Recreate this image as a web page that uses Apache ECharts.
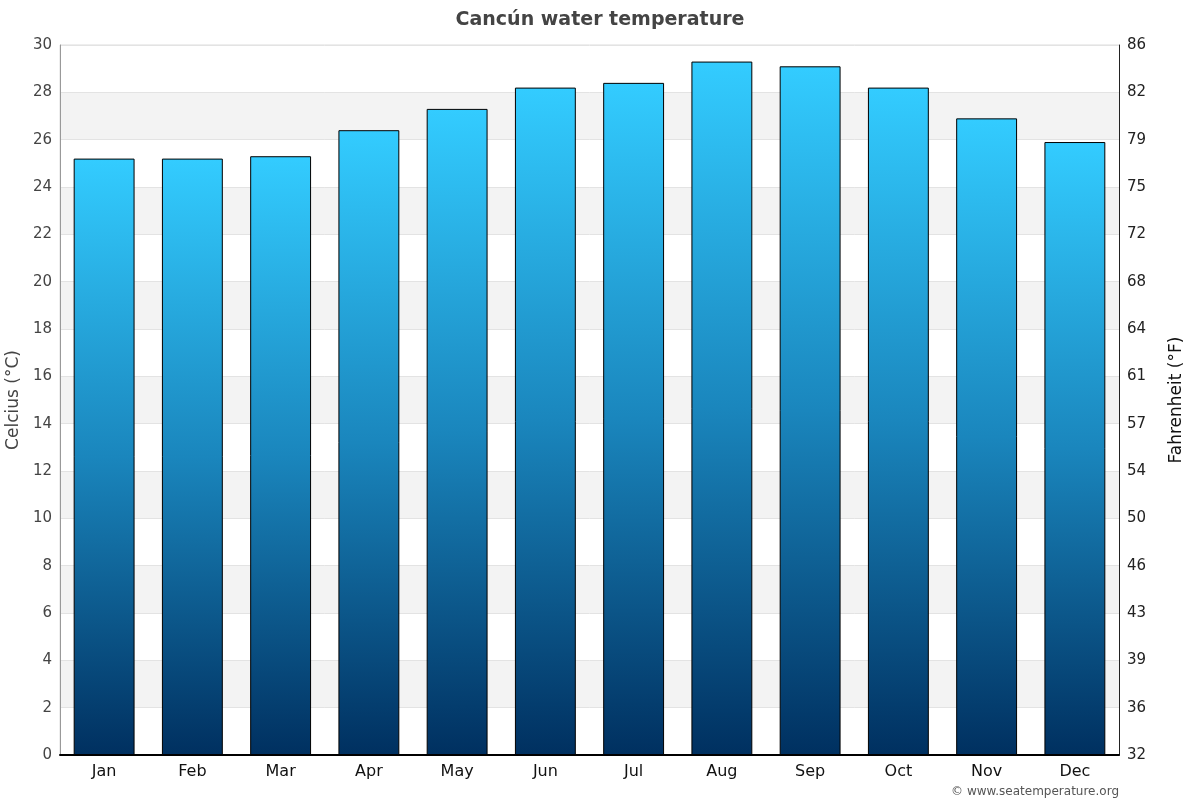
<!DOCTYPE html>
<html>
<head>
<meta charset="utf-8">
<title>Cancún water temperature</title>
<script src="https://cdn.jsdelivr.net/npm/echarts@6/dist/echarts.min.js"></script>
<style>
    html, body { margin: 0; padding: 0; background: #fff; }
    #main { width: 1200px; height: 800px; }
</style>
</head>
<body>
<div id="main"></div>
<script>
    var months = ['Jan', 'Feb', 'Mar', 'Apr', 'May', 'Jun', 'Jul', 'Aug', 'Sep', 'Oct', 'Nov', 'Dec'];
    var waterTempC = [25.2, 25.2, 25.3, 26.4, 27.3, 28.2, 28.4, 29.3, 29.1, 28.2, 26.9, 25.9];

    var myChart = echarts.init(document.getElementById('main'));
    var font = 'DejaVu Sans';

    var option = {
        animation: false,
        textStyle: { fontFamily: font },
        title: {
            text: 'Cancún water temperature',
            left: 'center',
            top: 6,
            textStyle: { fontSize: 19, fontWeight: 'bold', color: '#444', fontFamily: font }
        },
        graphic: [{
            type: 'text',
            right: 81,
            bottom: 2,
            style: { text: '© www.seatemperature.org', fontSize: 12, fill: '#555', fontFamily: font }
        }],
        grid: {
            left: 60, right: 81, top: 45, bottom: 45,
            outerBoundsMode: 'none',
            show: true, borderColor: '#ddd', borderWidth: 1
        },
        xAxis: {
            type: 'category',
            data: months,
            axisLine: { lineStyle: { color: '#000', width: 2 } },
            axisTick: { show: false },
            axisLabel: { color: '#111', fontSize: 16, margin: 9 }
        },
        yAxis: [{
            type: 'value',
            min: 0,
            max: 30,
            interval: 2,
            name: 'Celcius (°C)',
            nameLocation: 'middle',
            nameGap: 32,
            nameTextStyle: { color: '#444', fontSize: 17 },
            axisLine: { show: true, lineStyle: { color: '#999' } },
            axisTick: { show: false },
            axisLabel: { color: '#444', fontSize: 15, margin: 8 },
            splitLine: { show: true, lineStyle: { color: '#e3e3e3' } },
            splitArea: { show: true, areaStyle: { color: ['#ffffff', '#f3f3f3'] } }
        }, {
            type: 'value',
            min: 0,
            max: 30,
            interval: 2,
            position: 'right',
            name: 'Fahrenheit (°F)',
            nameLocation: 'middle',
            nameGap: 49,
            nameRotate: 90,
            nameTextStyle: { color: '#111', fontSize: 17 },
            axisLine: { show: true, lineStyle: { color: '#222' } },
            axisTick: { show: false },
            axisLabel: {
                color: '#222', fontSize: 15, margin: 8,
                formatter: function (v) { return Math.round(v * 1.8 + 32); }
            },
            splitLine: { show: false }
        }],
        series: [{
            name: 'Water temperature',
            type: 'bar',
            data: waterTempC,
            barWidth: '69%',
            itemStyle: {
                borderColor: '#000',
                borderWidth: 1,
                color: new echarts.graphic.LinearGradient(0, 0, 0, 1, [
                    { offset: 0, color: '#33ccff' },
                    { offset: 0.5, color: '#1a86bd' },
                    { offset: 1, color: '#003060' }
                ])
            }
        }]
    };

    myChart.setOption(option);
</script>
</body>
</html>
